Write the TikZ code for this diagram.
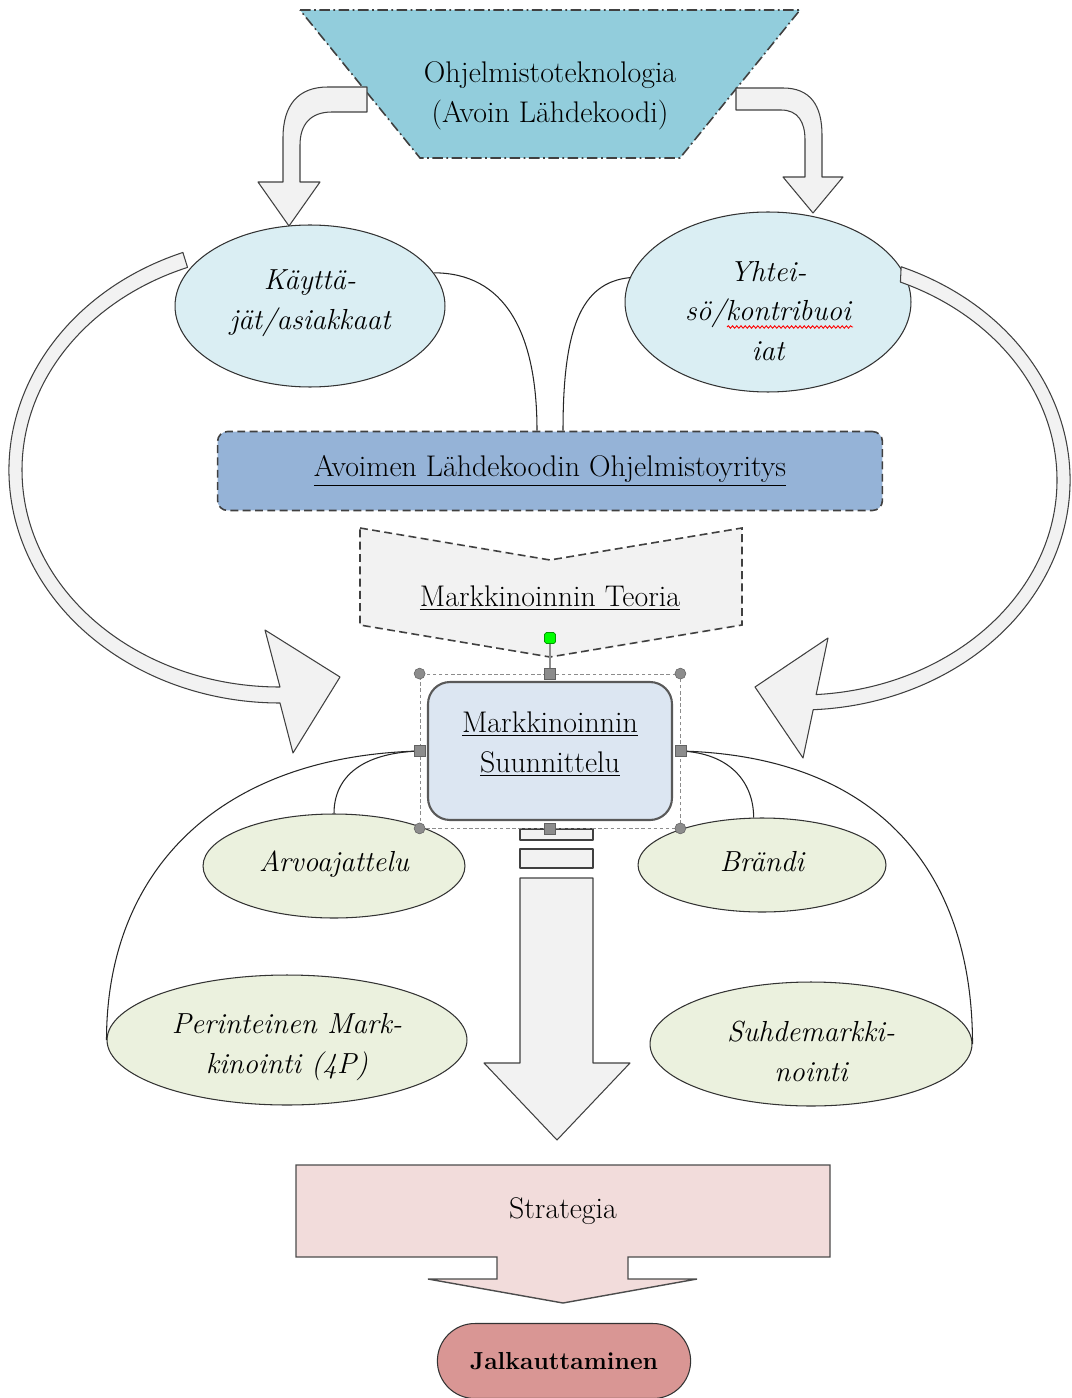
\documentclass[tikz,border=0pt]{standalone}
\usepackage{fontspec}
\usetikzlibrary{shapes.geometric,shapes.misc,calc,fit,decorations.pathmorphing}

\definecolor{techteal}{HTML}{92CDDC}
\definecolor{userblue}{HTML}{DAEEF3}
\definecolor{firmblue}{HTML}{95B3D7}
\definecolor{arrowgray}{HTML}{F2F2F2}
\definecolor{planblue}{HTML}{DCE6F2}
\definecolor{ideagreen}{HTML}{EBF1DE}
\definecolor{stratpink}{HTML}{F2DCDB}
\definecolor{launchred}{HTML}{D99694}
\definecolor{handlegray}{HTML}{8C8C8C}

\begin{document}
\begin{tikzpicture}[x=0.02cm, y=-0.02cm,
  every node/.style={font=\fontsize{17}{22.7}\selectfont},
  bubble/.style={ellipse, draw=black!80, line width=0.6pt, inner sep=0pt},
  user/.style={bubble, fill=userblue},
  idea/.style={bubble, fill=ideagreen},
  itext/.style={align=center, font=\fontsize{16.5}{22.7}\selectfont\itshape},
  blockarrow/.style={draw=black!75, fill=arrowgray, line width=0.6pt, line join=round},
  dashline/.style={draw=black!75, line width=0.9pt, dash pattern=on 4.5pt off 2.5pt},
  conn/.style={draw=black!85, line width=0.6pt},
  handle/.style={fill=handlegray, draw=handlegray!70!black, line width=0.3pt}]

\useasboundingbox (0,0) rectangle (1071,1398);

% top: technology
\filldraw[fill=techteal, draw=black!75, line width=0.9pt,
  dash pattern=on 6pt off 2pt on 1pt off 2pt] (300,10) -- (800,10) -- (680,158) -- (420,158) -- cycle;
\node[align=center] (tekno) at (550,96) {Ohjelmistoteknologia\\(Avoin Lähdekoodi)};

\filldraw[blockarrow] (367,87) -- (328,87) .. controls (298,87) and (283,105) .. (283,138)
  -- (283,182) -- (258,182) -- (289,226) -- (320,182) -- (300,182) -- (300,145)
  .. controls (300,125) and (310,112) .. (332,112) -- (367,112) -- cycle;
\filldraw[blockarrow] (736,88) -- (783,88) .. controls (810,88) and (822,105) .. (822,135)
  -- (822,177) -- (843,177) -- (813,213) -- (783,177) -- (805,177) -- (805,140)
  .. controls (805,122) and (798,110) .. (781,110) -- (736,110) -- cycle;

% users and community
\node[user, minimum width=5.4cm, minimum height=3.24cm] (kay) at (310,306) {};
\node[itext] (kaylbl) at (310,303) {Käyttä-\\jät/asiakkaat};
\node[user, minimum width=5.72cm, minimum height=3.6cm] (yht) at (768,302) {};
\node[itext] (yhtlbl) at (768,311) {Yhtei-\\sö/kontribuoi\\iat};
\draw[red, line width=0.5pt, decorate, decoration={snake, amplitude=0.7pt, segment length=2.4pt}]
  (727,327) -- (853,327);

% company and theory
\node[dashline, fill=firmblue, rounded corners=0.2cm, minimum width=13.3cm, minimum height=1.58cm]
  (yritys) at (550,471) {\underline{Avoimen Lähdekoodin Ohjelmistoyritys}};
\draw[conn] (kay.15) .. controls +(70,0) and +(0,-100) .. ($(yritys.north)+(-13,0)$);
\draw[conn] (yht.170) .. controls +(-50,5) and +(0,-100) .. ($(yritys.north)+(13,0)$);

\filldraw[dashline, fill=arrowgray] (360,528) -- (550,560) -- (742,528) -- (742,625) -- (550,657) -- (360,625) -- cycle;
\node (teoria) at (550,598) {\underline{Markkinoinnin Teoria}};

% feedback loops
\filldraw[blockarrow] ($(280,470)+(249:271 and 233)$)
  arc[start angle=249, end angle=90, x radius=271, y radius=233]
  -- (293,753) -- (340,677) -- (265,630) -- ($(280,470)+(90:258 and 217)$)
  arc[start angle=90, end angle=249, x radius=258, y radius=217] -- cycle;
\filldraw[blockarrow] ($(800,480)+(-68:270 and 230)$)
  arc[start angle=-68, end angle=87.2, x radius=270, y radius=230]
  -- (803,758) -- (755,687) -- (828,638) -- ($(800,480)+(86.4:257 and 215)$)
  arc[start angle=86.4, end angle=-67, x radius=257, y radius=215] -- cycle;

% planning
\filldraw[blockarrow] (520,829) rectangle (593,840);
\filldraw[blockarrow] (520,849) rectangle (593,868);
\filldraw[blockarrow] (520,878) -- (593,878) -- (593,1063) -- (630,1063) -- (557,1140)
  -- (484,1063) -- (520,1063) -- cycle;

\node[draw=black!65, line width=1.2pt, fill=planblue, rounded corners=0.44cm, minimum width=4.88cm,
  minimum height=2.76cm] (suun) at (550,751) {};
\node[align=center] (suunlbl) at (550,744) {\underline{Markkinoinnin}\\\underline{Suunnittelu}};

\node[idea, minimum width=5.24cm, minimum height=2.08cm] (arvo) at (334,866) {};
\node[itext] (arvolbl) at (334,864) {Arvoajattelu};
\node[idea, minimum width=4.96cm, minimum height=1.88cm] (brandi) at (762,865) {};
\node[itext] (brandilbl) at (762,862) {Brändi};
\node[idea, minimum width=7.2cm, minimum height=2.6cm] (peri) at (287,1040) {};
\node[itext] (perilbl) at (287,1047) {Perinteinen Mark-\\kinointi (4P)};
\node[idea, minimum width=6.44cm, minimum height=2.48cm] (suhde) at (811,1044) {};
\node[itext] (suhdelbl) at (811,1051) {Suhdemarkki-\\nointi};

% selection frame
\node[draw=black!45, line width=0.4pt, dash pattern=on 2pt off 1.5pt, inner sep=0.14cm, fit=(suun)] (sel) {};
\draw[conn] (sel.west) .. controls +(-60,2) and +(0,-35) .. (arvo.north);
\draw[conn] (sel.west) .. controls +(-200,5) and +(0,-170) .. (peri.west);
\draw[conn] (sel.east) .. controls +(50,2) and +(0,-35) .. (brandi.100);
\draw[conn] (sel.east) .. controls +(200,5) and +(0,-170) .. (suhde.east);
\node[fill=green, draw=green!60!black, rounded corners=1pt, minimum size=0.22cm, inner sep=0pt] (rot) at (550,638) {};
\draw[handlegray, line width=0.8pt] (rot) -- (sel.north);
\foreach \a in {north west, north east, south west, south east}
  \filldraw[handle] (sel.\a) circle (0.11cm);
\foreach \a in {north, south, west, east}
  \filldraw[handle] ($(sel.\a)+(-5.5,-5.5)$) rectangle +(11,11);

% strategy
\filldraw[draw=black!70, fill=stratpink, line width=0.8pt] (296,1165) -- (830,1165) -- (830,1257)
  -- (628,1257) -- (628,1279) -- (697,1279) -- (563,1303) -- (428,1279) -- (497,1279)
  -- (497,1257) -- (296,1257) -- cycle;
\node (strat) at (563,1211) {Strategia};

\node[rounded rectangle, draw=black!80, fill=launchred, line width=0.6pt, minimum width=5.3cm,
  minimum height=1.5cm, font=\fontsize{14}{18}\selectfont\bfseries] (jalk) at (564,1361) {Jalkauttaminen};

\end{tikzpicture}
\end{document}
